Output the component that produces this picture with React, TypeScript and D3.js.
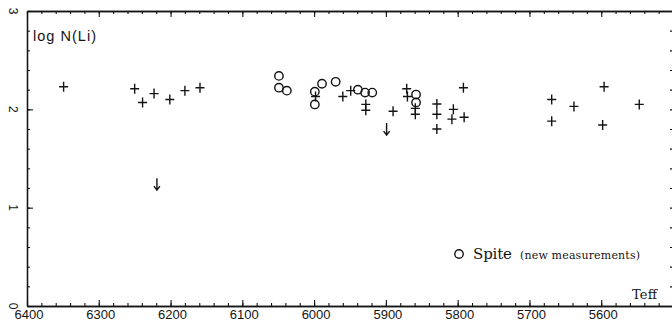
import React, { useEffect, useRef } from 'react';
import * as d3 from 'd3';

// Teff / log N(Li)
const crossTeff = [6349, 6250, 6239, 6223, 6201, 6180, 6159, 5998, 5960, 5949, 5928, 5928, 5890, 5871, 5870, 5859, 5859, 5829, 5829, 5829, 5806, 5808, 5791, 5792, 5669, 5669, 5638, 5596, 5598, 5547];
const crossLi = [2.23, 2.21, 2.07, 2.16, 2.10, 2.19, 2.22, 2.13, 2.13, 2.19, 2.05, 1.99, 1.98, 2.21, 2.13, 2.01, 1.95, 2.055, 1.95, 1.80, 2.0, 1.9, 1.92, 2.22, 2.10, 1.88, 2.03, 2.23, 1.84, 2.05];

const spiteTeff = [6049, 6049, 6038, 5999, 5999, 5989, 5970, 5939, 5929, 5919, 5858, 5858];
const spiteLi = [2.34, 2.22, 2.19, 2.18, 2.05, 2.26, 2.28, 2.20, 2.17, 2.17, 2.15, 2.07];

const limitTeff = [6219, 5899];
const limitLi = [1.30, 1.86];

const xMajor = [6400, 6300, 6200, 6100, 6000, 5900, 5800, 5700, 5600];
const yMajor = [0, 1, 2, 3];

const W = 672;
const H = 326;
const INK = '#141414';

export default function App() {
  const svgRef = useRef<SVGSVGElement>(null);

  useEffect(() => {
    if (!svgRef.current) return;
    const root = d3.select(svgRef.current);
    root.selectAll('*').remove();

    const x = d3.scaleLinear().domain([6400, 5500]).range([27, 673]);
    const y = d3.scaleLinear().domain([0, 3]).range([306, 11]);

    const xMinor = d3.range(6400, 5499, -20);
    const yMinor = d3.range(0, 3.01, 0.2);

    const styleAxis = (g: any) => {
      g.select('.domain').attr('stroke', INK).attr('stroke-width', 1.3);
      g.selectAll('.tick line').attr('stroke', INK).attr('stroke-width', 1.1);
      g.selectAll('.tick text').remove();
    };

    // bottom axis
    root.append('g').attr('transform', `translate(0,${y(0)})`)
      .call(d3.axisBottom(x).tickValues(xMinor).tickSize(-3).tickSizeOuter(0)).call(styleAxis);
    root.append('g').attr('transform', `translate(0,${y(0)})`)
      .call(d3.axisBottom(x).tickValues(xMajor).tickSize(-6).tickSizeOuter(0)).call(styleAxis);
    // top axis
    root.append('g').attr('transform', `translate(0,${y(3)})`)
      .call(d3.axisTop(x).tickValues(xMinor).tickSize(-3).tickSizeOuter(0)).call(styleAxis);
    root.append('g').attr('transform', `translate(0,${y(3)})`)
      .call(d3.axisTop(x).tickValues(xMajor).tickSize(-6).tickSizeOuter(0)).call(styleAxis);
    // left axis
    root.append('g').attr('transform', `translate(${x(6400)},0)`)
      .call(d3.axisLeft(y).tickValues(yMinor).tickSize(-3).tickSizeOuter(0)).call(styleAxis);
    root.append('g').attr('transform', `translate(${x(6400)},0)`)
      .call(d3.axisLeft(y).tickValues(yMajor).tickSize(-6).tickSizeOuter(0)).call(styleAxis);
    // right axis (mostly cut off)
    root.append('g').attr('transform', `translate(${x(5500)},0)`)
      .call(d3.axisRight(y).tickValues(yMinor).tickSize(-3).tickSizeOuter(0)).call(styleAxis);

    // x tick labels
    root.append('g').selectAll('text').data(xMajor).enter().append('text')
      .attr('x', (d) => x(d) + 2)
      .attr('y', 319)
      .attr('text-anchor', 'middle')
      .attr('fill', INK)
      .attr('font-size', '13px')
      .attr('font-family', '"Liberation Sans", Arial, sans-serif')
      .text((d) => String(d));

    // y tick labels, rotated
    root.append('g').selectAll('text').data(yMajor).enter().append('text')
      .attr('transform', (d) => `translate(9,${y(d)}) rotate(90)`)
      .attr('text-anchor', 'middle')
      .attr('fill', INK)
      .attr('font-size', '12px')
      .attr('font-family', '"Liberation Sans", Arial, sans-serif')
      .text((d) => String(d));

    // axis titles
    root.append('text')
      .attr('x', 33).attr('y', 41)
      .attr('fill', INK)
      .attr('font-size', '14.5px')
      .attr('font-family', '"Liberation Sans", Arial, sans-serif')
      .attr('textLength', 63)
      .text('log N(Li)');

    root.append('text')
      .attr('x', 632).attr('y', 299)
      .attr('fill', INK)
      .attr('font-size', '13px')
      .attr('font-family', '"DejaVu Serif", serif')
      .attr('textLength', 25)
      .text('Teff');

    // crosses
    const crosses = crossTeff.map((t, i) => ({ t, v: crossLi[i] }));
    root.append('g').selectAll('path').data(crosses).enter().append('path')
      .attr('d', (d) => {
        const cx = x(d.t), cy = y(d.v);
        return `M${cx - 4.5},${cy}H${cx + 4.5}M${cx},${cy - 5}V${cy + 5}`;
      })
      .attr('stroke', INK)
      .attr('stroke-width', 1.4)
      .attr('fill', 'none');

    // Spite circles
    const circles = spiteTeff.map((t, i) => ({ t, v: spiteLi[i] }));
    root.append('g').selectAll('circle').data(circles).enter().append('circle')
      .attr('cx', (d) => x(d.t))
      .attr('cy', (d) => y(d.v))
      .attr('r', 4.2)
      .attr('fill', 'none')
      .attr('stroke', INK)
      .attr('stroke-width', 1.4);

    // upper limits
    const limits = limitTeff.map((t, i) => ({ t, v: limitLi[i] }));
    const lim = root.append('g').selectAll('g').data(limits).enter().append('g')
      .attr('transform', (d) => `translate(${x(d.t)},${y(d.v)})`);
    lim.append('path')
      .attr('d', 'M0,0V12M-3,8L0,12L3,8')
      .attr('stroke', INK)
      .attr('stroke-width', 1.4)
      .attr('fill', 'none');

    // legend
    root.append('circle')
      .attr('cx', 459).attr('cy', 254)
      .attr('r', 4.2)
      .attr('fill', 'none')
      .attr('stroke', INK)
      .attr('stroke-width', 1.4);
    root.append('text')
      .attr('x', 473).attr('y', 259)
      .attr('fill', INK)
      .attr('font-size', '15px')
      .attr('font-family', '"DejaVu Serif", serif')
      .attr('textLength', 39)
      .text('Spite');
    root.append('text')
      .attr('x', 520).attr('y', 259)
      .attr('fill', INK)
      .attr('font-size', '11px')
      .attr('font-family', '"DejaVu Serif", serif')
      .attr('textLength', 120)
      .text('(new measurements)');
  }, []);

  return (
    <svg
      ref={svgRef}
      width={W}
      height={H}
      style={{ position: 'absolute', left: 0, top: 0, background: '#fff' }}
    ></svg>
  );
}
